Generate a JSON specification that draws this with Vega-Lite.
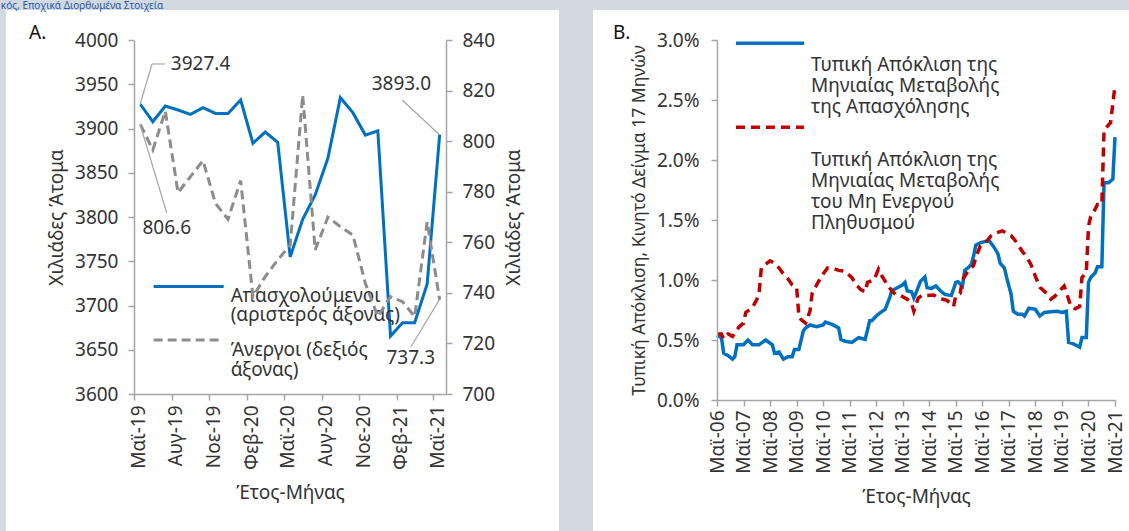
{
  "$schema": "https://vega.github.io/schema/vega-lite/v6.json",
  "background": "#d2d9e1",
  "padding": 0,
  "bounds": "flush",
  "spacing": 271,
  "title": {"text": "κός, Εποχικά Διορθωμένα Στοιχεία", "anchor": "start", "fontSize": 10, "fontWeight": "normal", "color": "#1f5aa5", "offset": 0, "dx": -5, "dy": 1, "font": "Noto Sans"},
  "config": {
    "font": "Noto Sans",
    "view": {"stroke": null},
    "axis": {"domainColor": "#a6a6a6", "domainWidth": 1.5, "tickColor": "#a6a6a6", "tickWidth": 1.5, "tickSize": 6, "labelColor": "#333333", "labelFontSize": 19, "titleFontSize": 19, "titleFontWeight": "normal", "titleColor": "#333333", "grid": false, "zindex": 1, "labelFont": "Noto Sans", "titleFont": "Noto Sans", "labelFlush": false},
    "text": {"font": "Noto Sans", "fontSize": 19, "color": "#333333"}
  },
  "datasets": {
    "labour": [
      {"date": "2019/05/01", "emp": 3927.4, "unemp": 806.6},
      {"date": "2019/06/01", "emp": 3907.7, "unemp": 796.5},
      {"date": "2019/07/01", "emp": 3925.4, "unemp": 811.9},
      {"date": "2019/08/01", "emp": 3920.9, "unemp": 779.6},
      {"date": "2019/09/01", "emp": 3916.0, "unemp": 786.0},
      {"date": "2019/10/01", "emp": 3923.5, "unemp": 792.3},
      {"date": "2019/11/01", "emp": 3917.0, "unemp": 775.4},
      {"date": "2019/12/01", "emp": 3917.0, "unemp": 769.1},
      {"date": "2020/01/01", "emp": 3932.2, "unemp": 784.4},
      {"date": "2020/02/01", "emp": 3883.3, "unemp": 738.5},
      {"date": "2020/03/01", "emp": 3896.0, "unemp": 746.4},
      {"date": "2020/04/01", "emp": 3884.4, "unemp": 753.0},
      {"date": "2020/05/01", "emp": 3755.0, "unemp": 758.9},
      {"date": "2020/06/01", "emp": 3797.4, "unemp": 818.2},
      {"date": "2020/07/01", "emp": 3824.9, "unemp": 757.0},
      {"date": "2020/08/01", "emp": 3866.3, "unemp": 769.9},
      {"date": "2020/09/01", "emp": 3934.8, "unemp": 766.2},
      {"date": "2020/10/01", "emp": 3917.9, "unemp": 762.9},
      {"date": "2020/11/01", "emp": 3892.6, "unemp": 743.8},
      {"date": "2020/12/01", "emp": 3897.5, "unemp": 730.6},
      {"date": "2021/01/01", "emp": 3665.5, "unemp": 738.5},
      {"date": "2021/02/01", "emp": 3680.6, "unemp": 736.5},
      {"date": "2021/03/01", "emp": 3680.6, "unemp": 730.6},
      {"date": "2021/04/01", "emp": 3724.3, "unemp": 768.1},
      {"date": "2021/05/01", "emp": 3893.0, "unemp": 737.3}
    ],
    "sdEmp": [
      {"date": "2006/05/01", "sd": 0.54}, {"date": "2006/07/01", "sd": 0.52}, {"date": "2006/08/01", "sd": 0.39},
      {"date": "2006/10/01", "sd": 0.37}, {"date": "2006/12/01", "sd": 0.34}, {"date": "2007/01/01", "sd": 0.36},
      {"date": "2007/02/01", "sd": 0.46}, {"date": "2007/05/01", "sd": 0.46}, {"date": "2007/07/01", "sd": 0.50},
      {"date": "2007/09/01", "sd": 0.46}, {"date": "2007/12/01", "sd": 0.46}, {"date": "2008/03/01", "sd": 0.50},
      {"date": "2008/06/01", "sd": 0.46}, {"date": "2008/07/01", "sd": 0.39}, {"date": "2008/09/01", "sd": 0.40},
      {"date": "2008/11/01", "sd": 0.34}, {"date": "2009/01/01", "sd": 0.36}, {"date": "2009/03/01", "sd": 0.36},
      {"date": "2009/04/01", "sd": 0.42}, {"date": "2009/06/01", "sd": 0.42}, {"date": "2009/08/01", "sd": 0.575},
      {"date": "2009/09/01", "sd": 0.60}, {"date": "2009/11/01", "sd": 0.625}, {"date": "2010/02/01", "sd": 0.61},
      {"date": "2010/05/01", "sd": 0.625}, {"date": "2010/06/01", "sd": 0.65}, {"date": "2010/09/01", "sd": 0.63},
      {"date": "2010/12/01", "sd": 0.60}, {"date": "2011/01/01", "sd": 0.505}, {"date": "2011/03/01", "sd": 0.49},
      {"date": "2011/06/01", "sd": 0.48}, {"date": "2011/09/01", "sd": 0.52}, {"date": "2011/10/01", "sd": 0.515},
      {"date": "2011/12/01", "sd": 0.505}, {"date": "2012/02/01", "sd": 0.66}, {"date": "2012/03/01", "sd": 0.66},
      {"date": "2012/05/01", "sd": 0.70}, {"date": "2012/07/01", "sd": 0.73}, {"date": "2012/09/01", "sd": 0.755},
      {"date": "2012/11/01", "sd": 0.85}, {"date": "2012/12/01", "sd": 0.91}, {"date": "2013/03/01", "sd": 0.94},
      {"date": "2013/05/01", "sd": 0.96}, {"date": "2013/06/01", "sd": 0.98}, {"date": "2013/07/01", "sd": 0.91},
      {"date": "2013/09/01", "sd": 0.90}, {"date": "2013/10/01", "sd": 0.85}, {"date": "2013/11/01", "sd": 0.895},
      {"date": "2014/01/01", "sd": 0.99}, {"date": "2014/03/01", "sd": 1.025}, {"date": "2014/04/01", "sd": 0.935},
      {"date": "2014/06/01", "sd": 0.93}, {"date": "2014/08/01", "sd": 0.95}, {"date": "2014/10/01", "sd": 0.91},
      {"date": "2014/12/01", "sd": 0.88}, {"date": "2015/03/01", "sd": 0.87}, {"date": "2015/05/01", "sd": 0.98},
      {"date": "2015/06/01", "sd": 0.985}, {"date": "2015/08/01", "sd": 0.95}, {"date": "2015/09/01", "sd": 1.08},
      {"date": "2015/11/01", "sd": 1.11}, {"date": "2015/12/01", "sd": 1.13}, {"date": "2016/01/01", "sd": 1.20},
      {"date": "2016/02/01", "sd": 1.29}, {"date": "2016/04/01", "sd": 1.31}, {"date": "2016/06/01", "sd": 1.32},
      {"date": "2016/08/01", "sd": 1.33}, {"date": "2016/10/01", "sd": 1.28}, {"date": "2016/12/01", "sd": 1.22},
      {"date": "2017/01/01", "sd": 1.14}, {"date": "2017/03/01", "sd": 1.10}, {"date": "2017/04/01", "sd": 1.02},
      {"date": "2017/06/01", "sd": 0.88}, {"date": "2017/07/01", "sd": 0.74}, {"date": "2017/09/01", "sd": 0.715},
      {"date": "2017/11/01", "sd": 0.715}, {"date": "2017/12/01", "sd": 0.70}, {"date": "2018/02/01", "sd": 0.765},
      {"date": "2018/05/01", "sd": 0.755}, {"date": "2018/07/01", "sd": 0.70}, {"date": "2018/09/01", "sd": 0.73},
      {"date": "2018/12/01", "sd": 0.735}, {"date": "2019/03/01", "sd": 0.74}, {"date": "2019/05/01", "sd": 0.73},
      {"date": "2019/07/01", "sd": 0.74}, {"date": "2019/08/01", "sd": 0.48}, {"date": "2019/10/01", "sd": 0.47},
      {"date": "2019/12/01", "sd": 0.45}, {"date": "2020/01/01", "sd": 0.44}, {"date": "2020/02/01", "sd": 0.52},
      {"date": "2020/04/01", "sd": 0.52}, {"date": "2020/05/01", "sd": 0.98}, {"date": "2020/06/01", "sd": 1.02},
      {"date": "2020/08/01", "sd": 1.06}, {"date": "2020/09/01", "sd": 1.11}, {"date": "2020/11/01", "sd": 1.11},
      {"date": "2020/12/01", "sd": 1.81}, {"date": "2021/02/01", "sd": 1.81}, {"date": "2021/04/01", "sd": 1.84},
      {"date": "2021/05/01", "sd": 2.19}
    ],
    "sdInact": [
      {"date": "2006/05/01", "sd": 0.55}, {"date": "2006/07/01", "sd": 0.55}, {"date": "2006/08/01", "sd": 0.51},
      {"date": "2006/10/01", "sd": 0.55}, {"date": "2006/12/01", "sd": 0.53}, {"date": "2007/03/01", "sd": 0.61},
      {"date": "2007/05/01", "sd": 0.64}, {"date": "2007/06/01", "sd": 0.73}, {"date": "2007/09/01", "sd": 0.77},
      {"date": "2007/11/01", "sd": 0.84}, {"date": "2007/12/01", "sd": 0.89}, {"date": "2008/01/01", "sd": 1.10},
      {"date": "2008/03/01", "sd": 1.13}, {"date": "2008/05/01", "sd": 1.16}, {"date": "2008/07/01", "sd": 1.14},
      {"date": "2008/09/01", "sd": 1.10}, {"date": "2008/11/01", "sd": 1.05}, {"date": "2009/01/01", "sd": 1.01},
      {"date": "2009/03/01", "sd": 0.96}, {"date": "2009/05/01", "sd": 0.94}, {"date": "2009/06/01", "sd": 0.70},
      {"date": "2009/07/01", "sd": 0.67}, {"date": "2009/09/01", "sd": 0.64}, {"date": "2009/11/01", "sd": 0.74},
      {"date": "2009/12/01", "sd": 0.89}, {"date": "2010/03/01", "sd": 0.99}, {"date": "2010/05/01", "sd": 1.05},
      {"date": "2010/07/01", "sd": 1.10}, {"date": "2010/09/01", "sd": 1.10}, {"date": "2010/12/01", "sd": 1.08},
      {"date": "2011/02/01", "sd": 1.075}, {"date": "2011/03/01", "sd": 1.07}, {"date": "2011/06/01", "sd": 1.02},
      {"date": "2011/08/01", "sd": 0.96}, {"date": "2011/10/01", "sd": 0.92}, {"date": "2011/12/01", "sd": 0.90},
      {"date": "2012/01/01", "sd": 0.98}, {"date": "2012/04/01", "sd": 1.00}, {"date": "2012/06/01", "sd": 1.09},
      {"date": "2012/07/01", "sd": 1.05}, {"date": "2012/10/01", "sd": 0.96}, {"date": "2012/12/01", "sd": 0.91},
      {"date": "2013/02/01", "sd": 0.875}, {"date": "2013/04/01", "sd": 0.87}, {"date": "2013/07/01", "sd": 0.84},
      {"date": "2013/09/01", "sd": 0.80}, {"date": "2013/10/01", "sd": 0.74}, {"date": "2013/12/01", "sd": 0.85},
      {"date": "2014/02/01", "sd": 0.875}, {"date": "2014/04/01", "sd": 0.87}, {"date": "2014/07/01", "sd": 0.875},
      {"date": "2014/09/01", "sd": 0.85}, {"date": "2014/11/01", "sd": 0.84}, {"date": "2015/01/01", "sd": 0.83},
      {"date": "2015/04/01", "sd": 0.78}, {"date": "2015/05/01", "sd": 0.87}, {"date": "2015/07/01", "sd": 0.89},
      {"date": "2015/08/01", "sd": 1.00}, {"date": "2015/10/01", "sd": 1.06}, {"date": "2016/01/01", "sd": 1.12},
      {"date": "2016/02/01", "sd": 1.19}, {"date": "2016/04/01", "sd": 1.28}, {"date": "2016/07/01", "sd": 1.325},
      {"date": "2016/09/01", "sd": 1.37}, {"date": "2016/11/01", "sd": 1.39}, {"date": "2017/02/01", "sd": 1.41},
      {"date": "2017/04/01", "sd": 1.39}, {"date": "2017/06/01", "sd": 1.37}, {"date": "2017/08/01", "sd": 1.325},
      {"date": "2017/11/01", "sd": 1.24}, {"date": "2018/01/01", "sd": 1.19}, {"date": "2018/03/01", "sd": 1.13},
      {"date": "2018/05/01", "sd": 1.03}, {"date": "2018/07/01", "sd": 0.94}, {"date": "2018/10/01", "sd": 0.89},
      {"date": "2018/12/01", "sd": 0.84}, {"date": "2019/02/01", "sd": 0.87}, {"date": "2019/05/01", "sd": 0.93},
      {"date": "2019/06/01", "sd": 0.95}, {"date": "2019/08/01", "sd": 0.84}, {"date": "2019/09/01", "sd": 0.78},
      {"date": "2019/11/01", "sd": 0.76}, {"date": "2020/01/01", "sd": 0.78}, {"date": "2020/02/01", "sd": 1.02},
      {"date": "2020/04/01", "sd": 1.06}, {"date": "2020/05/01", "sd": 1.45}, {"date": "2020/06/01", "sd": 1.53},
      {"date": "2020/08/01", "sd": 1.59}, {"date": "2020/09/01", "sd": 1.63}, {"date": "2020/11/01", "sd": 1.63},
      {"date": "2020/12/01", "sd": 2.25}, {"date": "2021/03/01", "sd": 2.31}, {"date": "2021/05/01", "sd": 2.62}
    ]
  },
  "hconcat": [
    {
      "width": 312,
      "height": 354,
      "title": {"text": "Α.", "anchor": "start", "frame": "group", "dx": -105, "dy": 52, "offset": 0, "baseline": "bottom", "fontSize": 19, "fontWeight": "normal", "color": "#111111", "font": "Noto Sans"},
      "data": {"name": "labour"},
      "layer": [
        {
          "layer": [
            {
              "data": {"values": [{}]},
              "mark": {"type": "rect", "fill": "#ffffff"},
              "encoding": {
                "x": {"datum": {"year": 2018, "month": 6, "date": 22}, "type": "temporal", "scale": {"domain": [{"year": 2019, "month": 5, "date": 1}, {"year": 2021, "month": 6, "date": 1}], "nice": false}},
                "x2": {"datum": {"year": 2022, "month": 3, "date": 4}},
                "y": {"datum": 4033.9, "type": "quantitative", "scale": {"domain": [3600, 4000], "nice": false, "zero": false}},
                "y2": {"datum": 3400}
              }
            },
            {
              "mark": {"type": "line", "color": "#0070c0", "strokeWidth": 3},
              "encoding": {
                "x": {"field": "date", "timeUnit": "yearmonth", "type": "temporal", "bandPosition": 0.5,
                  "scale": {"domain": [{"year": 2019, "month": 5, "date": 1}, {"year": 2021, "month": 6, "date": 1}], "nice": false},
                  "axis": {"zindex": 1, "title": "Έτος-Μήνας", "titlePadding": 14, "labelAngle": 270, "labelPadding": 5, "labelOffset": 4, "labelOverlap": false, "labelFlush": false, "labelBound": false, "tickCount": 60,
                    "values": [{"year": 2019, "month": 5, "date": 1}, {"year": 2019, "month": 8, "date": 1}, {"year": 2019, "month": 11, "date": 1}, {"year": 2020, "month": 2, "date": 1}, {"year": 2020, "month": 5, "date": 1}, {"year": 2020, "month": 8, "date": 1}, {"year": 2020, "month": 11, "date": 1}, {"year": 2021, "month": 2, "date": 1}, {"year": 2021, "month": 5, "date": 1}],
                    "labelExpr": "['Ιαν','Φεβ','Μαρ','Απρ','Μαϊ','Ιουν','Ιουλ','Αυγ','Σεπ','Οκτ','Νοε','Δεκ'][month(datum.value)] + '-' + timeFormat(datum.value, '%y')"}},
                "y": {"field": "emp", "type": "quantitative",
                  "scale": {"domain": [3600, 4000], "nice": false, "zero": false},
                  "axis": {"zindex": 1, "title": "Χιλιάδες Άτομα", "orient": "left", "tickCount": 60, "values": [3600, 3650, 3700, 3750, 3800, 3850, 3900, 3950, 4000], "format": "d", "labelPadding": 10, "titlePadding": 8, "labelOverlap": false}}
              }
            },
            {
              "data": {"values": [{}]},
              "mark": {"type": "rule", "color": "#a6a6a6", "strokeWidth": 1.2},
              "encoding": {
                "x": {"datum": {"year": 2019, "month": 5, "date": 16}, "type": "temporal"},
                "x2": {"datum": {"year": 2019, "month": 6, "date": 14}},
                "y": {"datum": 3927.4, "type": "quantitative"},
                "y2": {"datum": 3972.9}
              }
            },
            {
              "data": {"values": [{}]},
              "mark": {"type": "rule", "color": "#a6a6a6", "strokeWidth": 1.2},
              "encoding": {
                "x": {"datum": {"year": 2019, "month": 6, "date": 14}, "type": "temporal"},
                "x2": {"datum": {"year": 2019, "month": 7, "date": 15}},
                "y": {"datum": 3972.9, "type": "quantitative"}
              }
            },
            {
              "data": {"values": [{}]},
              "mark": {"type": "text", "align": "left", "baseline": "middle"},
              "encoding": {
                "x": {"datum": {"year": 2019, "month": 7, "date": 30}, "type": "temporal"},
                "y": {"datum": 3972.9, "type": "quantitative"},
                "text": {"value": "3927.4"}
              }
            },
            {
              "data": {"values": [{}]},
              "mark": {"type": "rule", "color": "#a6a6a6", "strokeWidth": 1.2},
              "encoding": {
                "x": {"datum": {"year": 2021, "month": 2, "date": 14}, "type": "temporal"},
                "x2": {"datum": {"year": 2021, "month": 5, "date": 16}},
                "y": {"datum": 3932.2, "type": "quantitative"},
                "y2": {"datum": 3893.0}
              }
            },
            {
              "data": {"values": [{}]},
              "mark": {"type": "text", "align": "center", "baseline": "middle"},
              "encoding": {
                "x": {"datum": {"year": 2021, "month": 2, "date": 12}, "type": "temporal"},
                "y": {"datum": 3950.3, "type": "quantitative"},
                "text": {"value": "3893.0"}
              }
            },
            {
              "data": {"values": [{}]},
              "mark": {"type": "rule", "color": "#0070c0", "strokeWidth": 3},
              "encoding": {
                "x": {"datum": {"year": 2019, "month": 6, "date": 18}, "type": "temporal"},
                "x2": {"datum": {"year": 2019, "month": 12, "date": 6}},
                "y": {"datum": 3721.5, "type": "quantitative"}
              }
            },
            {
              "data": {"values": [{}]},
              "mark": {"type": "rule", "color": "#8c8c8c", "strokeWidth": 3, "strokeDash": [9, 5]},
              "encoding": {
                "x": {"datum": {"year": 2019, "month": 6, "date": 18}, "type": "temporal"},
                "x2": {"datum": {"year": 2019, "month": 12, "date": 6}},
                "y": {"datum": 3661.0, "type": "quantitative"}
              }
            },
            {
              "data": {"values": [{}]},
              "mark": {"type": "text", "align": "left", "baseline": "middle", "lineBreak": "\n", "lineHeight": 19.5},
              "encoding": {
                "x": {"datum": {"year": 2019, "month": 12, "date": 23}, "type": "temporal"},
                "y": {"datum": 3711.1, "type": "quantitative"},
                "text": {"value": "Απασχολούμενοι\n(αριστερός άξονας)"}
              }
            },
            {
              "data": {"values": [{}]},
              "mark": {"type": "text", "align": "left", "baseline": "middle", "lineBreak": "\n", "lineHeight": 19.5},
              "encoding": {
                "x": {"datum": {"year": 2019, "month": 12, "date": 23}, "type": "temporal"},
                "y": {"datum": 3649.7, "type": "quantitative"},
                "text": {"value": "Άνεργοι (δεξιός\nάξονας)"}
              }
            }
          ]
        },
        {
          "layer": [
            {
              "mark": {"type": "line", "color": "#8c8c8c", "strokeWidth": 3, "strokeDash": [9, 5]},
              "encoding": {
                "x": {"field": "date", "timeUnit": "yearmonth", "type": "temporal", "bandPosition": 0.5,
                  "scale": {"domain": [{"year": 2019, "month": 5, "date": 1}, {"year": 2021, "month": 6, "date": 1}], "nice": false}},
                "y": {"field": "unemp", "type": "quantitative",
                  "scale": {"domain": [700, 840], "nice": false, "zero": false},
                  "axis": {"zindex": 1, "title": "Χιλιάδες Άτομα", "orient": "right", "tickCount": 60, "values": [700, 720, 740, 760, 780, 800, 820, 840], "format": "d", "labelPadding": 10, "titlePadding": 10, "titleAngle": 270, "titleBaseline": "top", "labelOverlap": false}}
              }
            },
            {
              "data": {"values": [{}]},
              "mark": {"type": "rule", "color": "#a6a6a6", "strokeWidth": 1.2},
              "encoding": {
                "x": {"datum": {"year": 2019, "month": 5, "date": 16}, "type": "temporal"},
                "x2": {"datum": {"year": 2019, "month": 7, "date": 20}},
                "y": {"datum": 806.6, "type": "quantitative"},
                "y2": {"datum": 771.6}
              }
            },
            {
              "data": {"values": [{}]},
              "mark": {"type": "text", "align": "center", "baseline": "middle"},
              "encoding": {
                "x": {"datum": {"year": 2019, "month": 7, "date": 20}, "type": "temporal"},
                "y": {"datum": 765.65, "type": "quantitative"},
                "text": {"value": "806.6"}
              }
            },
            {
              "data": {"values": [{}]},
              "mark": {"type": "rule", "color": "#a6a6a6", "strokeWidth": 1.2},
              "encoding": {
                "x": {"datum": {"year": 2021, "month": 5, "date": 16}, "type": "temporal"},
                "x2": {"datum": {"year": 2021, "month": 3, "date": 7}},
                "y": {"datum": 737.3, "type": "quantitative"},
                "y2": {"datum": 718.6}
              }
            },
            {
              "data": {"values": [{}]},
              "mark": {"type": "text", "align": "center", "baseline": "middle"},
              "encoding": {
                "x": {"datum": {"year": 2021, "month": 3, "date": 7}, "type": "temporal"},
                "y": {"datum": 714.2, "type": "quantitative"},
                "text": {"value": "737.3"}
              }
            }
          ]
        }
      ],
      "resolve": {"scale": {"y": "independent"}}
    },
    {
      "width": 398,
      "height": 360,
      "title": {"text": "Β.", "anchor": "start", "frame": "group", "dx": -104, "dy": 52, "offset": 0, "baseline": "bottom", "fontSize": 19, "fontWeight": "normal", "color": "#111111", "font": "Noto Sans"},
      "layer": [
        {
          "data": {"values": [{}]},
          "mark": {"type": "rect", "fill": "#ffffff"},
          "encoding": {
            "x": {"datum": {"year": 2001, "month": 8, "date": 28}, "type": "temporal", "scale": {"domain": [{"year": 2006, "month": 5, "date": 1}, {"year": 2021, "month": 5, "date": 1}], "nice": false}},
            "x2": {"datum": {"year": 2022, "month": 6, "date": 1}},
            "y": {"datum": 3.25, "type": "quantitative", "scale": {"domain": [0, 3], "nice": false, "zero": false}},
            "y2": {"datum": -1.5}
          }
        },
        {
          "data": {"name": "sdEmp"},
          "mark": {"type": "line", "color": "#0070c0", "strokeWidth": 3.5},
          "encoding": {
            "x": {"field": "date", "type": "temporal",
              "scale": {"domain": [{"year": 2006, "month": 5, "date": 1}, {"year": 2021, "month": 5, "date": 1}], "nice": false},
              "axis": {"zindex": 1, "title": "Έτος-Μήνας", "titlePadding": 14, "labelAngle": 270, "labelPadding": 4, "labelOverlap": false, "labelFlush": false, "labelBound": false, "tickCount": 60,
                "values": [{"year": 2006, "month": 5, "date": 1}, {"year": 2007, "month": 5, "date": 1}, {"year": 2008, "month": 5, "date": 1}, {"year": 2009, "month": 5, "date": 1}, {"year": 2010, "month": 5, "date": 1}, {"year": 2011, "month": 5, "date": 1}, {"year": 2012, "month": 5, "date": 1}, {"year": 2013, "month": 5, "date": 1}, {"year": 2014, "month": 5, "date": 1}, {"year": 2015, "month": 5, "date": 1}, {"year": 2016, "month": 5, "date": 1}, {"year": 2017, "month": 5, "date": 1}, {"year": 2018, "month": 5, "date": 1}, {"year": 2019, "month": 5, "date": 1}, {"year": 2020, "month": 5, "date": 1}, {"year": 2021, "month": 5, "date": 1}],
                "labelExpr": "'Μαϊ-' + timeFormat(datum.value, '%y')"}},
            "y": {"field": "sd", "type": "quantitative",
              "scale": {"domain": [0, 3], "nice": false, "zero": false},
              "axis": {"zindex": 1, "title": "Τυπική Απόκλιση, Κινητό Δείγμα 17 Μηνών", "titleFontSize": 17.5, "tickCount": 60, "values": [0, 0.5, 1, 1.5, 2, 2.5, 3], "labelExpr": "format(datum.value, '.1f') + '%'", "labelPadding": 12, "titlePadding": 8, "labelOverlap": false}}
          }
        },
        {
          "data": {"name": "sdInact"},
          "mark": {"type": "line", "color": "#c00000", "strokeWidth": 3.5, "strokeDash": [9, 6]},
          "encoding": {
            "x": {"field": "date", "type": "temporal", "scale": {"domain": [{"year": 2006, "month": 5, "date": 1}, {"year": 2021, "month": 5, "date": 1}], "nice": false}},
            "y": {"field": "sd", "type": "quantitative", "scale": {"domain": [0, 3], "nice": false, "zero": false}}
          }
        },
        {
          "data": {"values": [{}]},
          "mark": {"type": "rule", "color": "#0070c0", "strokeWidth": 3.5},
          "encoding": {
            "x": {"datum": {"year": 2007, "month": 1, "date": 17}, "type": "temporal"},
            "x2": {"datum": {"year": 2009, "month": 8, "date": 10}},
            "y": {"datum": 2.973, "type": "quantitative"}
          }
        },
        {
          "data": {"values": [{}]},
          "mark": {"type": "rule", "color": "#c00000", "strokeWidth": 3.5, "strokeDash": [9, 6]},
          "encoding": {
            "x": {"datum": {"year": 2007, "month": 1, "date": 17}, "type": "temporal"},
            "x2": {"datum": {"year": 2009, "month": 8, "date": 10}},
            "y": {"datum": 2.273, "type": "quantitative"}
          }
        },
        {
          "data": {"values": [{}]},
          "mark": {"type": "text", "align": "left", "baseline": "middle", "lineBreak": "\n", "lineHeight": 21},
          "encoding": {
            "x": {"datum": {"year": 2009, "month": 11, "date": 15}, "type": "temporal"},
            "y": {"datum": 2.792, "type": "quantitative"},
            "text": {"value": "Τυπική Απόκλιση της\nΜηνιαίας Μεταβολής\nτης Απασχόλησης"}
          }
        },
        {
          "data": {"values": [{}]},
          "mark": {"type": "text", "align": "left", "baseline": "middle", "lineBreak": "\n", "lineHeight": 21},
          "encoding": {
            "x": {"datum": {"year": 2009, "month": 11, "date": 15}, "type": "temporal"},
            "y": {"datum": 2.004, "type": "quantitative"},
            "text": {"value": "Τυπική Απόκλιση της\nΜηνιαίας Μεταβολής\nτου Μη Ενεργού\nΠληθυσμού"}
          }
        }
      ]
    }
  ]
}
